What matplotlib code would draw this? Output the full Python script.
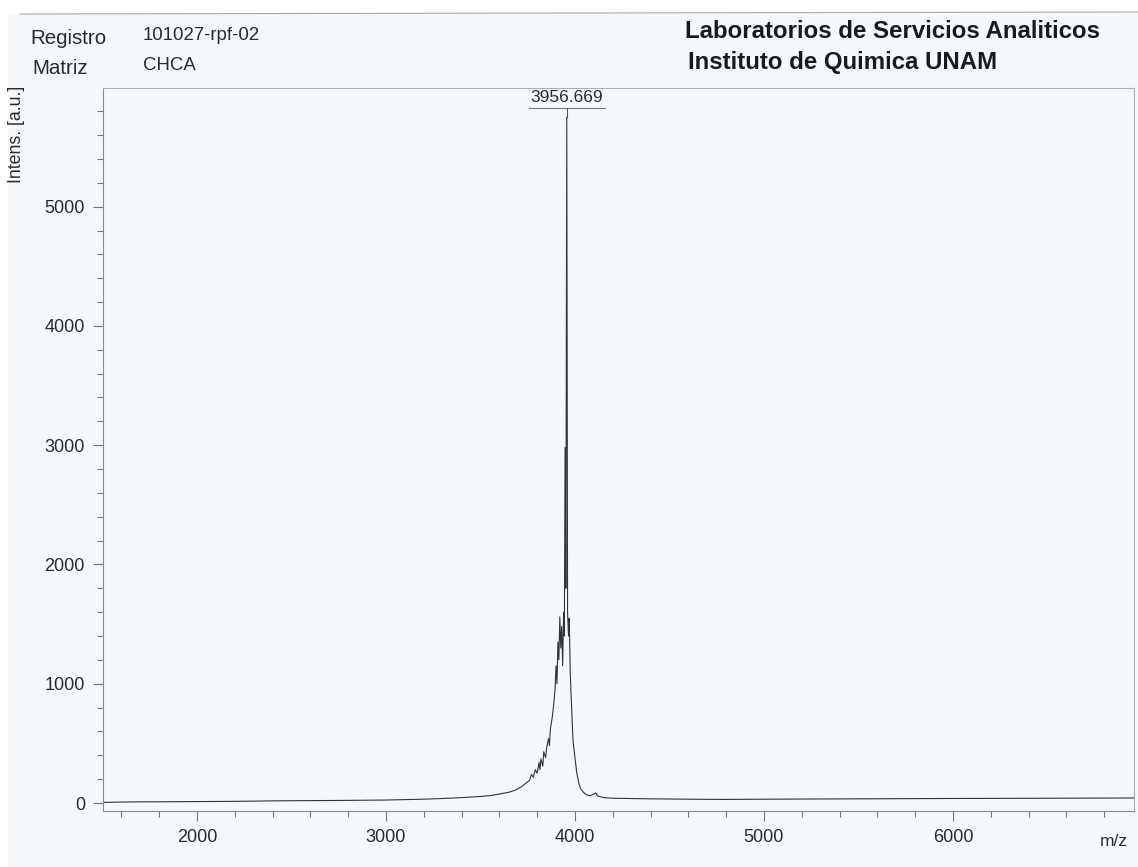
import numpy as np
import matplotlib
matplotlib.use("Agg")
import matplotlib.pyplot as plt
from matplotlib.ticker import MultipleLocator
from matplotlib.lines import Line2D
from matplotlib.patches import Rectangle

plt.rcParams['font.family'] = ['Liberation Sans', 'DejaVu Sans']

# spectrum (m/z, intensity)
mz = [1503, 1600, 1700, 1800, 2000, 2200, 2400, 2600, 2800, 3000,
      3200, 3300, 3400, 3500, 3550, 3600, 3650, 3680, 3700, 3720,
      3740, 3760, 3770, 3780, 3790, 3800, 3810, 3815, 3820, 3830,
      3835, 3845, 3850, 3860, 3865, 3870, 3880, 3888, 3895, 3900,
      3905, 3910, 3915, 3920, 3925, 3930, 3935, 3940, 3944, 3948,
      3952, 3956.669, 3961, 3966, 3970, 3975, 3980, 3985, 3990, 3995,
      4000, 4010, 4020, 4030, 4045, 4060, 4080, 4100, 4110, 4120,
      4150, 4200, 4400, 4600, 4800, 5000, 5500, 6000, 6500, 6958]
intens = [5, 8, 10, 10, 12, 14, 18, 20, 22, 25,
          32, 38, 45, 55, 62, 75, 90, 105, 120, 140,
          165, 190, 240, 215, 280, 250, 340, 280, 370, 310,
          430, 380, 460, 540, 480, 620, 720, 830, 960, 1150,
          1000, 1350, 1200, 1560, 1300, 1480, 1150, 1600, 1400, 2980,
          1800, 5750, 1600, 1400, 1550, 1100, 900, 700, 520, 450,
          380, 250, 170, 120, 90, 70, 60, 75, 85, 60,
          45, 40, 35, 32, 30, 32, 35, 38, 40, 42]

peak_mz = 3956.669
peak_int = 5750
peak_label = "3956.669"

registro = "101027-rpf-02"
matriz = "CHCA"

fig = plt.figure(figsize=(11.38, 8.67), dpi=100, facecolor='#f6f9fc')
W, H = 1138, 867

# white page margin of the scan
fig.patches.append(Rectangle((0, 1 - 13 / H), 1, 13 / H, transform=fig.transFigure,
                             facecolor='white', edgecolor='none', zorder=0))
fig.patches.append(Rectangle((0, 0), 8 / W, 1, transform=fig.transFigure,
                             facecolor='white', edgecolor='none', zorder=0))

ax = fig.add_axes([103 / W, 1 - 811 / H, (1134 - 103) / W, (811 - 88) / H])
ax.set_facecolor('none')

ax.plot(mz, intens, color='#333333', lw=0.8)

ax.set_xlim(1503, 6958)
ax.set_ylim(-67, 5995)

ax.xaxis.set_major_locator(MultipleLocator(1000))
ax.xaxis.set_minor_locator(MultipleLocator(200))
ax.yaxis.set_major_locator(MultipleLocator(1000))
ax.yaxis.set_minor_locator(MultipleLocator(200))
ax.tick_params(which='both', direction='out', colors='#777777', labelcolor='#2a2a2a',
               labelsize=13, width=0.8)
ax.tick_params(which='major', length=7, pad=6)
ax.tick_params(which='minor', length=4)
for s in ax.spines.values():
    s.set_color('#8a8a8a')
    s.set_linewidth(0.8)
ax.spines['top'].set_color('#b0b0b0')
ax.spines['right'].set_color('#b0b0b0')

# peak annotation with underline
ax.plot([peak_mz - 200, peak_mz + 200], [5824, 5824], color='#777777', lw=0.8, clip_on=False)
ax.plot([peak_mz, peak_mz], [peak_int, 5824], color='#555555', lw=0.8, clip_on=False)
ax.text(peak_mz, 5850, peak_label, ha='center', va='bottom', fontsize=12.5, color='#2a2a2a')

# header
fig.add_artist(Line2D([20 / W, 1], [1 - 14 / H, 1 - 12 / H], color='#aaaaaa', lw=0.8))
fig.text(30 / W, 1 - 38 / H, "Registro", fontsize=14.8, va='center', color='#2a2a2a')
fig.text(143 / W, 1 - 36 / H, registro, fontsize=13.4, va='center', color='#2a2a2a')
fig.text(32 / W, 1 - 68 / H, "Matriz", fontsize=14.8, va='center', color='#2a2a2a')
fig.text(143 / W, 1 - 66 / H, matriz, fontsize=13.4, va='center', color='#2a2a2a')
fig.text(685 / W, 1 - 31 / H, "Laboratorios de Servicios Analiticos", fontsize=17.3,
         fontweight='bold', va='center', color='#1a1a1a')
fig.text(688 / W, 1 - 63 / H, "Instituto de Quimica UNAM", fontsize=17.3,
         fontweight='bold', va='center', color='#1a1a1a')

fig.text(17 / W, 1 - 86 / H, "Intens. [a.u.]", rotation=90, ha='center', va='top',
         fontsize=12.8, color='#2a2a2a')
fig.text(1100 / W, 1 - 841 / H, "m/z", ha='left', va='center', fontsize=12.5, color='#2a2a2a')

fig.savefig("out.png", dpi=100, facecolor=fig.get_facecolor())
